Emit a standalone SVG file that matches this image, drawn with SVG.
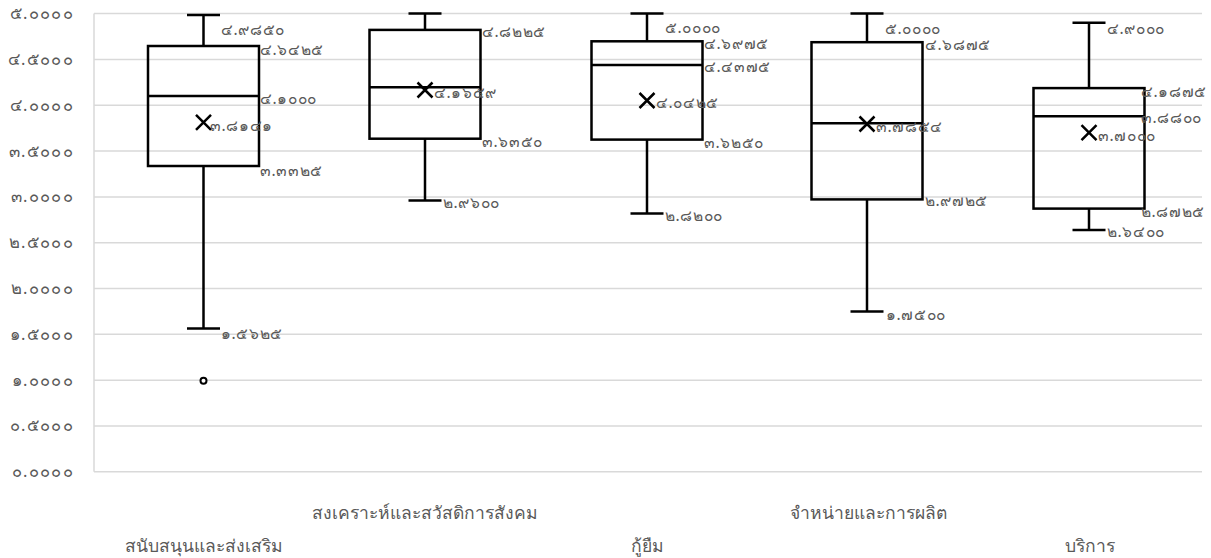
<svg xmlns="http://www.w3.org/2000/svg" width="1211" height="558" viewBox="0 0 1211 558">
<style>
.grid{stroke:#d9d9d9;stroke-width:1.5;fill:none}
.box{stroke:#000;stroke-width:2.5;fill:none}
.ln{stroke:#000;stroke-width:2.5;fill:none}
.mk{stroke:#000;stroke-width:2.5;fill:none}
.ax{font-family:"Noto Sans","DejaVu Sans",sans-serif;font-size:16.5px;letter-spacing:1.3px;fill:#595959;text-anchor:end}
.lb{font-family:"Noto Sans","DejaVu Sans",sans-serif;font-size:15.5px;letter-spacing:0.6px;fill:#595959}
.cat{font-family:"Noto Sans","DejaVu Sans",sans-serif;font-size:17.5px;fill:#595959;text-anchor:middle}
</style>
<rect width="1211" height="558" fill="#fff"/>
<g id="grid">
<line class="grid" x1="94" y1="13.6" x2="1202" y2="13.6"/>
<line class="grid" x1="94" y1="59.4" x2="1202" y2="59.4"/>
<line class="grid" x1="94" y1="105.3" x2="1202" y2="105.3"/>
<line class="grid" x1="94" y1="151.1" x2="1202" y2="151.1"/>
<line class="grid" x1="94" y1="196.9" x2="1202" y2="196.9"/>
<line class="grid" x1="94" y1="242.7" x2="1202" y2="242.7"/>
<line class="grid" x1="94" y1="288.5" x2="1202" y2="288.5"/>
<line class="grid" x1="94" y1="334.3" x2="1202" y2="334.3"/>
<line class="grid" x1="94" y1="380.2" x2="1202" y2="380.2"/>
<line class="grid" x1="94" y1="426" x2="1202" y2="426"/>
<line class="grid" x1="94" y1="471.8" x2="1202" y2="471.8"/>
<line class="grid" x1="94" y1="13.6" x2="94" y2="471.8"/>
</g>
<g id="yaxis">
<text class="ax" x="74" y="19">๕.๐๐๐๐</text>
<text class="ax" x="74" y="64.8">๔.๕๐๐๐</text>
<text class="ax" x="74" y="110.7">๔.๐๐๐๐</text>
<text class="ax" x="74" y="156.5">๓.๕๐๐๐</text>
<text class="ax" x="74" y="202.3">๓.๐๐๐๐</text>
<text class="ax" x="74" y="248.1">๒.๕๐๐๐</text>
<text class="ax" x="74" y="293.9">๒.๐๐๐๐</text>
<text class="ax" x="74" y="339.7">๑.๕๐๐๐</text>
<text class="ax" x="74" y="385.6">๑.๐๐๐๐</text>
<text class="ax" x="74" y="431.4">๐.๕๐๐๐</text>
<text class="ax" x="74" y="477.2">๐.๐๐๐๐</text>
</g>
<g id="connectors">
<line class="ln" x1="203.5" y1="15" x2="203.5" y2="46"/>
<line class="ln" x1="187" y1="15" x2="220" y2="15"/>
<line class="ln" x1="203.5" y1="166" x2="203.5" y2="328.5"/>
<line class="ln" x1="187" y1="328.5" x2="220" y2="328.5"/>
<line class="ln" x1="425" y1="13.6" x2="425" y2="29.9"/>
<line class="ln" x1="408.5" y1="13.6" x2="441.5" y2="13.6"/>
<line class="ln" x1="425" y1="138.7" x2="425" y2="200.6"/>
<line class="ln" x1="408.5" y1="200.6" x2="441.5" y2="200.6"/>
<line class="ln" x1="647" y1="13.6" x2="647" y2="41.3"/>
<line class="ln" x1="630.5" y1="13.6" x2="663.5" y2="13.6"/>
<line class="ln" x1="647" y1="139.6" x2="647" y2="213.4"/>
<line class="ln" x1="630.5" y1="213.4" x2="663.5" y2="213.4"/>
<line class="ln" x1="867" y1="13.6" x2="867" y2="42.2"/>
<line class="ln" x1="850.5" y1="13.6" x2="883.5" y2="13.6"/>
<line class="ln" x1="867" y1="199.4" x2="867" y2="311.4"/>
<line class="ln" x1="850.5" y1="311.4" x2="883.5" y2="311.4"/>
<line class="ln" x1="1089" y1="22.8" x2="1089" y2="88.1"/>
<line class="ln" x1="1072.5" y1="22.8" x2="1105.5" y2="22.8"/>
<line class="ln" x1="1089" y1="208.6" x2="1089" y2="229.9"/>
<line class="ln" x1="1072.5" y1="229.9" x2="1105.5" y2="229.9"/>
</g>
<g id="box1">
<rect class="box" x="148" y="46" width="111" height="120"/>
<line class="ln" x1="148" y1="96" x2="259" y2="96"/>
<path class="mk" d="M196 114.8L211 129.8M211 114.8L196 129.8"/>
<circle cx="203.5" cy="380.8" r="3" fill="#fff" stroke="#000" stroke-width="2"/>
<text class="lb" x="221" y="35">๔.๙๘๕๐</text>
<text class="lb" x="260" y="55">๔.๖๔๒๕</text>
<text class="lb" x="260" y="104">๔.๑๐๐๐</text>
<text class="lb" x="210" y="131">๓.๘๑๔๑</text>
<text class="lb" x="260" y="176">๓.๓๓๒๕</text>
<text class="lb" x="221" y="339">๑.๕๖๒๕</text>
<text class="cat" x="203.5" y="552">สนับสนุนและส่งเสริม</text>
</g>
<g id="box2">
<rect class="box" x="369.5" y="29.9" width="111" height="108.8"/>
<line class="ln" x1="369.5" y1="87.3" x2="480.5" y2="87.3"/>
<path class="mk" d="M417.5 82.5L432.5 97.5M432.5 82.5L417.5 97.5"/>
<text class="lb" x="482" y="37">๔.๘๒๒๕</text>
<text class="lb" x="434" y="98">๔.๑๖๕๙</text>
<text class="lb" x="482" y="147">๓.๖๓๕๐</text>
<text class="lb" x="443" y="208">๒.๙๖๐๐</text>
<text class="cat" x="425" y="519">สงเคราะห์และสวัสดิการสังคม</text>
</g>
<g id="box3">
<rect class="box" x="591.5" y="41.3" width="111" height="98.3"/>
<line class="ln" x1="591.5" y1="65.1" x2="702.5" y2="65.1"/>
<path class="mk" d="M639.5 93L654.5 108M654.5 93L639.5 108"/>
<text class="lb" x="665" y="33">๕.๐๐๐๐</text>
<text class="lb" x="704" y="49">๔.๖๙๗๕</text>
<text class="lb" x="704" y="72">๔.๔๓๗๕</text>
<text class="lb" x="656" y="108">๔.๐๔๒๕</text>
<text class="lb" x="704" y="148">๓.๖๒๕๐</text>
<text class="lb" x="665" y="221">๒.๘๒๐๐</text>
<text class="cat" x="647" y="552">กู้ยืม</text>
</g>
<g id="box4">
<rect class="box" x="811.5" y="42.2" width="111" height="157.2"/>
<line class="ln" x1="811.5" y1="123.3" x2="922.5" y2="123.3"/>
<path class="mk" d="M859.5 116.5L874.5 131.5M874.5 116.5L859.5 131.5"/>
<text class="lb" x="885" y="34">๕.๐๐๐๐</text>
<text class="lb" x="925" y="50">๔.๖๘๗๕</text>
<text class="lb" x="876" y="132">๓.๗๘๕๔</text>
<text class="lb" x="925" y="206">๒.๙๗๒๕</text>
<text class="lb" x="886" y="320">๑.๗๕๐๐</text>
<text class="cat" x="868" y="519">จำหน่ายและการผลิต</text>
</g>
<g id="box5">
<rect class="box" x="1033.5" y="88.1" width="111" height="120.5"/>
<line class="ln" x1="1033.5" y1="116.2" x2="1144.5" y2="116.2"/>
<path class="mk" d="M1081.5 125.2L1096.5 140.2M1096.5 125.2L1081.5 140.2"/>
<text class="lb" x="1107" y="34">๔.๙๐๐๐</text>
<text class="lb" x="1141" y="97">๔.๑๘๗๕</text>
<text class="lb" x="1141" y="123">๓.๘๘๐๐</text>
<text class="lb" x="1098" y="141">๓.๗๐๐๐</text>
<text class="lb" x="1141" y="217">๒.๘๗๒๕</text>
<text class="lb" x="1107" y="237">๒.๖๔๐๐</text>
<text class="cat" x="1090" y="552">บริการ</text>
</g>
</svg>
